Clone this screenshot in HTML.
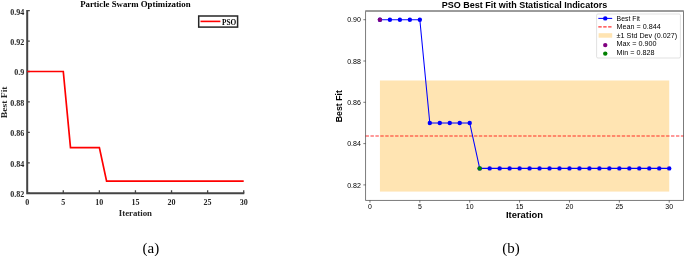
<!DOCTYPE html>
<html><head><meta charset="utf-8"><title>PSO Best Fit</title>
<style>html,body{margin:0;padding:0;background:#fff;width:685px;height:256px;overflow:hidden}svg{display:block;will-change:transform}</style>
</head><body>
<svg width="685" height="256" viewBox="0 0 685 256">
<rect width="685" height="256" fill="#fff"/>
<path d="M27.2 10.020000000000119V193.3H244.30999999999997" fill="none" stroke="#444444" stroke-width="2"/>
<path d="M27.2 193.26h2.6 M27.2 162.82h2.6 M27.2 132.38h2.6 M27.2 101.94h2.6 M27.2 71.50h2.6 M27.2 41.06h2.6 M27.2 10.62h2.6 M63.28 193.3v-3 M99.37 193.3v-3 M135.45 193.3v-3 M171.54 193.3v-3 M207.62 193.3v-3 M243.71 193.3v-3" stroke="#444444" stroke-width="1.3" fill="none"/>
<path d="M27.20 71.50 L63.28 71.50 L70.50 147.60 L99.37 147.60 L106.59 181.08 L243.71 181.08" fill="none" stroke="#ff0000" stroke-width="1.7" stroke-linejoin="miter"/>
<g style="font-family:'Liberation Serif',serif;font-weight:bold;font-size:8px" fill="#262626">
<text x="24.3" y="197.16" text-anchor="end">0.82</text>
<text x="24.3" y="166.72" text-anchor="end">0.84</text>
<text x="24.3" y="136.28" text-anchor="end">0.86</text>
<text x="24.3" y="105.84" text-anchor="end">0.88</text>
<text x="24.3" y="75.40" text-anchor="end">0.9</text>
<text x="24.3" y="44.96" text-anchor="end">0.92</text>
<text x="24.3" y="14.52" text-anchor="end">0.94</text>
<text x="27.20" y="204.5" text-anchor="middle">0</text>
<text x="63.28" y="204.5" text-anchor="middle">5</text>
<text x="99.37" y="204.5" text-anchor="middle">10</text>
<text x="135.45" y="204.5" text-anchor="middle">15</text>
<text x="171.54" y="204.5" text-anchor="middle">20</text>
<text x="207.62" y="204.5" text-anchor="middle">25</text>
<text x="243.71" y="204.5" text-anchor="middle">30</text>
</g>
<text x="135.4" y="216" text-anchor="middle" style="font-family:'Liberation Serif',serif;font-weight:bold;font-size:8.8px" fill="#262626">Iteration</text>
<text transform="translate(6.6 102.4) rotate(-90)" text-anchor="middle" style="font-family:'Liberation Serif',serif;font-weight:bold;font-size:8.8px" fill="#262626" textLength="31.8" lengthAdjust="spacingAndGlyphs">Best Fit</text>
<text x="135.4" y="6.6" text-anchor="middle" style="font-family:'Liberation Serif',serif;font-weight:bold;font-size:8.8px" fill="#000">Particle Swarm Optimization</text>
<rect x="198.7" y="16" width="38.9" height="11.1" fill="#fff" stroke="#262626" stroke-width="1.5"/>
<path d="M200.5 21.4H220.4" stroke="#ff0000" stroke-width="1.6"/>
<text x="222" y="24.8" style="font-family:'Liberation Serif',serif;font-weight:bold;font-size:7.3px" fill="#000">PSO</text>
<rect x="379.93" y="80.49" width="289.30" height="111.08" fill="#ffe4b2"/>
<path d="M365.55 136.03H683.5" stroke="#ff0000" stroke-opacity="0.8" stroke-width="1.1" stroke-dasharray="3.4 1.527"/>
<path d="M379.93 19.70 L389.90 19.70 L399.88 19.70 L409.85 19.70 L419.83 19.70 L429.81 122.95 L439.78 122.95 L449.76 122.95 L459.73 122.95 L469.71 122.95 L479.69 168.38 L489.66 168.38 L499.64 168.38 L509.61 168.38 L519.59 168.38 L529.57 168.38 L539.54 168.38 L549.52 168.38 L559.49 168.38 L569.47 168.38 L579.45 168.38 L589.42 168.38 L599.40 168.38 L609.37 168.38 L619.35 168.38 L629.33 168.38 L639.30 168.38 L649.28 168.38 L659.25 168.38 L669.23 168.38" fill="none" stroke="#0000ff" stroke-width="1.05"/>
<g fill="#0000ff">
<circle cx="379.93" cy="19.70" r="2.2"/>
<circle cx="389.90" cy="19.70" r="2.2"/>
<circle cx="399.88" cy="19.70" r="2.2"/>
<circle cx="409.85" cy="19.70" r="2.2"/>
<circle cx="419.83" cy="19.70" r="2.2"/>
<circle cx="429.81" cy="122.95" r="2.2"/>
<circle cx="439.78" cy="122.95" r="2.2"/>
<circle cx="449.76" cy="122.95" r="2.2"/>
<circle cx="459.73" cy="122.95" r="2.2"/>
<circle cx="469.71" cy="122.95" r="2.2"/>
<circle cx="479.69" cy="168.38" r="2.2"/>
<circle cx="489.66" cy="168.38" r="2.2"/>
<circle cx="499.64" cy="168.38" r="2.2"/>
<circle cx="509.61" cy="168.38" r="2.2"/>
<circle cx="519.59" cy="168.38" r="2.2"/>
<circle cx="529.57" cy="168.38" r="2.2"/>
<circle cx="539.54" cy="168.38" r="2.2"/>
<circle cx="549.52" cy="168.38" r="2.2"/>
<circle cx="559.49" cy="168.38" r="2.2"/>
<circle cx="569.47" cy="168.38" r="2.2"/>
<circle cx="579.45" cy="168.38" r="2.2"/>
<circle cx="589.42" cy="168.38" r="2.2"/>
<circle cx="599.40" cy="168.38" r="2.2"/>
<circle cx="609.37" cy="168.38" r="2.2"/>
<circle cx="619.35" cy="168.38" r="2.2"/>
<circle cx="629.33" cy="168.38" r="2.2"/>
<circle cx="639.30" cy="168.38" r="2.2"/>
<circle cx="649.28" cy="168.38" r="2.2"/>
<circle cx="659.25" cy="168.38" r="2.2"/>
<circle cx="669.23" cy="168.38" r="2.2"/>
</g>
<circle cx="379.93" cy="19.70" r="2.2" fill="#800080"/>
<circle cx="479.69" cy="168.38" r="2.2" fill="#008000"/>
<path d="M365.55 11.5V200.45H683.5V11.5" fill="none" stroke="#222" stroke-width="0.6"/>
<path d="M365.25 11.0H683.8" fill="none" stroke="#222" stroke-width="0.9"/>
<path d="M369.95 200.45v2.2 M419.83 200.45v2.2 M469.71 200.45v2.2 M519.59 200.45v2.2 M569.47 200.45v2.2 M619.35 200.45v2.2 M669.23 200.45v2.2 M365.55 184.90h-2.2 M365.55 143.60h-2.2 M365.55 102.30h-2.2 M365.55 61.00h-2.2 M365.55 19.70h-2.2" stroke="#222" stroke-width="0.6"/>
<g style="font-family:'Liberation Sans',sans-serif;font-size:6.3px" fill="#000">
<text x="360.9" y="187.60" text-anchor="end" textLength="13.75" lengthAdjust="spacingAndGlyphs">0.82</text>
<text x="360.9" y="146.30" text-anchor="end" textLength="13.75" lengthAdjust="spacingAndGlyphs">0.84</text>
<text x="360.9" y="105.00" text-anchor="end" textLength="13.75" lengthAdjust="spacingAndGlyphs">0.86</text>
<text x="360.9" y="63.70" text-anchor="end" textLength="13.75" lengthAdjust="spacingAndGlyphs">0.88</text>
<text x="360.9" y="22.40" text-anchor="end" textLength="13.75" lengthAdjust="spacingAndGlyphs">0.90</text>
<text x="369.95" y="209" text-anchor="middle" textLength="3.875" lengthAdjust="spacingAndGlyphs">0</text>
<text x="419.83" y="209" text-anchor="middle" textLength="3.875" lengthAdjust="spacingAndGlyphs">5</text>
<text x="469.71" y="209" text-anchor="middle" textLength="7.75" lengthAdjust="spacingAndGlyphs">10</text>
<text x="519.59" y="209" text-anchor="middle" textLength="7.75" lengthAdjust="spacingAndGlyphs">15</text>
<text x="569.47" y="209" text-anchor="middle" textLength="7.75" lengthAdjust="spacingAndGlyphs">20</text>
<text x="619.35" y="209" text-anchor="middle" textLength="7.75" lengthAdjust="spacingAndGlyphs">25</text>
<text x="669.23" y="209" text-anchor="middle" textLength="7.75" lengthAdjust="spacingAndGlyphs">30</text>
</g>
<text x="524.4" y="8" text-anchor="middle" style="font-family:'Liberation Sans',sans-serif;font-weight:bold;font-size:8.3px" textLength="165.5" lengthAdjust="spacingAndGlyphs">PSO Best Fit with Statistical Indicators</text>
<text x="524.5" y="218.1" text-anchor="middle" style="font-family:'Liberation Sans',sans-serif;font-weight:bold;font-size:8.2px" textLength="37" lengthAdjust="spacingAndGlyphs">Iteration</text>
<text transform="translate(342.3 106.2) rotate(-90)" text-anchor="middle" style="font-family:'Liberation Sans',sans-serif;font-weight:bold;font-size:8.3px" textLength="32" lengthAdjust="spacingAndGlyphs">Best Fit</text>
<rect x="596.6" y="14" width="83.8" height="44" rx="1.3" fill="#fff" fill-opacity="0.8" stroke="#ccc" stroke-width="0.6"/>
<path d="M598.3 18.4H612.2" stroke="#0000ff" stroke-width="1.05"/><circle cx="605.25" cy="18.4" r="2.2" fill="#0000ff"/>
<path d="M598.3 26.9H612.2" stroke="#ff0000" stroke-opacity="0.8" stroke-width="1.1" stroke-dasharray="3.4 1.527"/>
<rect x="598.6" y="33.2" width="13.6" height="4.5" fill="#ffe4b2"/>
<circle cx="605.25" cy="45.1" r="2.2" fill="#800080"/>
<circle cx="605.25" cy="53.6" r="2.2" fill="#008000"/>
<g style="font-family:'Liberation Sans',sans-serif;font-size:6.3px" fill="#000">
<text x="616.6" y="20.9" textLength="23.25" lengthAdjust="spacingAndGlyphs">Best Fit</text>
<text x="616.6" y="29.4" textLength="44.125" lengthAdjust="spacingAndGlyphs">Mean = 0.844</text>
<text x="616.6" y="37.9" textLength="60.5" lengthAdjust="spacingAndGlyphs">±1 Std Dev (0.027)</text>
<text x="616.6" y="46.4" textLength="39.875" lengthAdjust="spacingAndGlyphs">Max = 0.900</text>
<text x="616.6" y="55.0" textLength="38.0" lengthAdjust="spacingAndGlyphs">Min = 0.828</text>
</g>
<text x="150.9" y="252.7" text-anchor="middle" style="font-family:'Liberation Serif',serif;font-size:15px" fill="#000">(a)</text>
<text x="511" y="252.7" text-anchor="middle" style="font-family:'Liberation Serif',serif;font-size:15px" fill="#000">(b)</text>
</svg>
</body></html>
